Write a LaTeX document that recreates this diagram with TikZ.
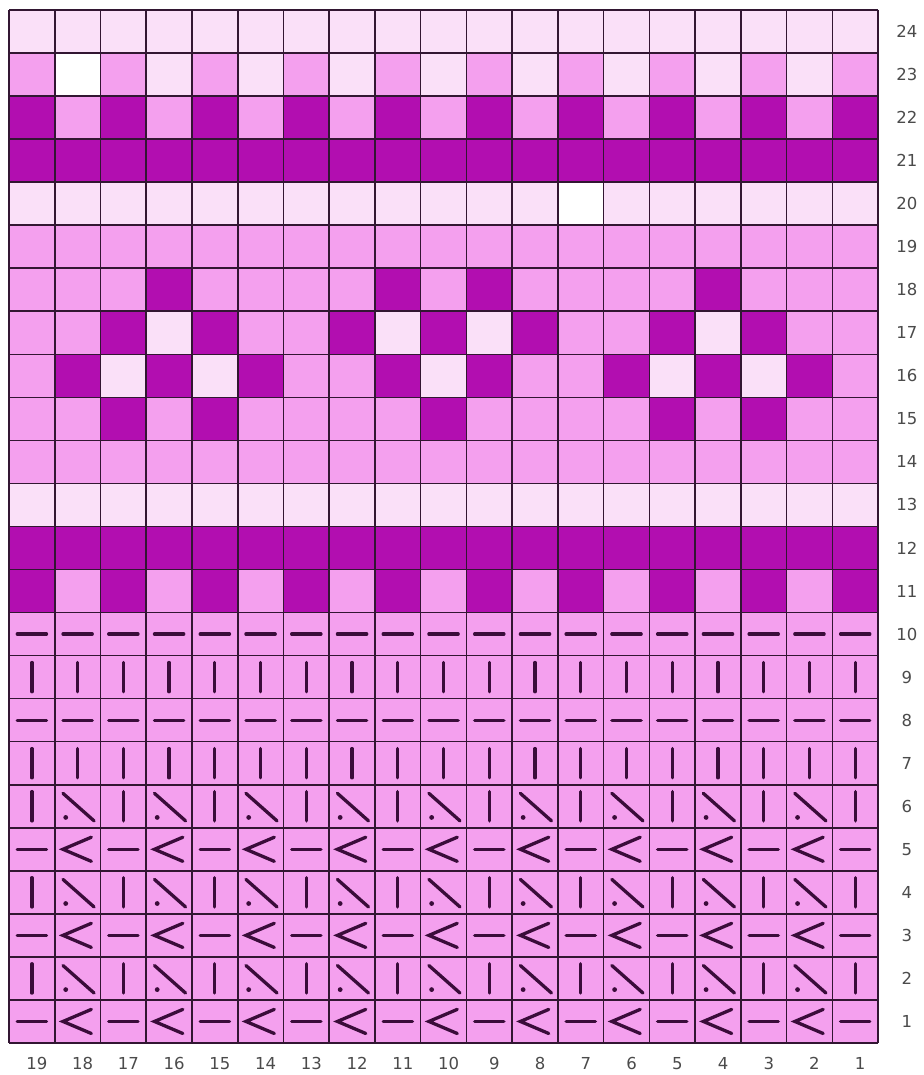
\documentclass[tikz,border=0pt]{standalone}
\usepackage{fontspec}
\setmainfont{DejaVu Sans}
\usepackage{xcolor}
\usepackage{tikz}

\definecolor{lite}{RGB}{250,224,248}
\definecolor{mid}{RGB}{244,160,238}
\definecolor{dark}{RGB}{178,14,176}
\definecolor{ink}{RGB}{58,12,58}
\definecolor{gridink}{RGB}{50,22,50}
\definecolor{numgray}{RGB}{75,75,75}

\begin{document}
\begin{tikzpicture}[x=1pt,y=-1pt,
  stitch/.style={ink,line width=3.3pt,line cap=round},
  gridline/.style={gridink,line width=1.6pt},
  rowlabel/.style={numgray,font=\fontsize{16.5}{19}\selectfont,inner sep=0pt},
  collabel/.style={numgray,font=\fontsize{16.5}{19}\selectfont,inner sep=0pt}]

\useasboundingbox[fill=white] (0,0) rectangle (923,1075);

\begin{scope}[shift={(9,10)},x=45.74pt,y=-43.04pt]

%% Row colours (row r sits at y = 24-r .. 25-r)
\foreach \r/\col in {24/lite,23/mid,22/mid,21/dark,20/lite,19/mid,18/mid,17/mid,
  16/mid,15/mid,14/mid,13/lite,12/dark,11/mid,10/mid,9/mid,8/mid,7/mid,
  6/mid,5/mid,4/mid,3/mid,2/mid,1/mid}{
  \fill[\col] (0,{24-\r}) rectangle (19,{25-\r});
}

%% Checks in rows 23, 22 and 11
\foreach \c in {2,4,...,18} \fill[lite] ({\c-1},1) rectangle (\c,2);
\foreach \c in {1,3,...,19} \fill[dark] ({\c-1},2) rectangle (\c,3);
\foreach \c in {1,3,...,19} \fill[dark] ({\c-1},13) rectangle (\c,14);

%% Single cells: stars of rows 15--18 and the two white squares
\foreach \c/\r/\col in {2/23/white,13/20/white,
  4/18/dark,9/18/dark,11/18/dark,16/18/dark,
  3/17/dark,5/17/dark,8/17/dark,10/17/dark,12/17/dark,15/17/dark,17/17/dark,
  4/17/lite,9/17/lite,11/17/lite,16/17/lite,
  2/16/dark,4/16/dark,6/16/dark,9/16/dark,11/16/dark,14/16/dark,16/16/dark,18/16/dark,
  3/16/lite,5/16/lite,10/16/lite,15/16/lite,17/16/lite,
  3/15/dark,5/15/dark,10/15/dark,15/15/dark,17/15/dark}{
  \fill[\col] ({\c-1},{24-\r}) rectangle (\c,{25-\r});
}

%% Stitch symbols, rows 1--10
\foreach \r in {10,8}{
  \foreach \c in {1,...,19}
    \draw[stitch] ({\c-0.82},{24.5-\r}) -- ({\c-0.18},{24.5-\r});
}
\foreach \r in {9,7}{
  \foreach \c in {1,...,19}
    \draw[stitch] ({\c-0.5},{24.16-\r}) -- ({\c-0.5},{24.84-\r});
}
\foreach \r in {6,4,2}{
  \foreach \c in {1,3,...,19}
    \draw[stitch] ({\c-0.5},{24.16-\r}) -- ({\c-0.5},{24.84-\r});
  \foreach \c in {2,4,...,18}{
    \draw[stitch] ({\c-0.82},{24.2-\r}) -- ({\c-0.14},{24.84-\r});
    \fill[ink] ({\c-0.76},{24.76-\r}) circle (2.4pt);
  }
}
\foreach \r in {5,3,1}{
  \foreach \c in {1,3,...,19}
    \draw[stitch] ({\c-0.82},{24.5-\r}) -- ({\c-0.18},{24.5-\r});
  \foreach \c in {2,4,...,18}
    \draw[stitch] ({\c-0.2},{24.22-\r}) -- ({\c-0.82},{24.5-\r}) -- ({\c-0.2},{24.78-\r});
}

%% Grid
\foreach \i in {0,...,19} \draw[gridline] (\i,0) -- (\i,24);
\foreach \j in {0,...,24} \draw[gridline] (0,\j) -- (19,\j);

%% Row numbers (right) and stitch numbers (bottom)
\foreach \r in {1,...,24}
  \node[rowlabel] (row\r) at (19.63,{24.5-\r}) {\r};
\foreach \n in {1,...,19}
  \node[collabel] (st\n) at ({19.61-\n},24.47) {\n};

\end{scope}
\end{tikzpicture}
\end{document}
